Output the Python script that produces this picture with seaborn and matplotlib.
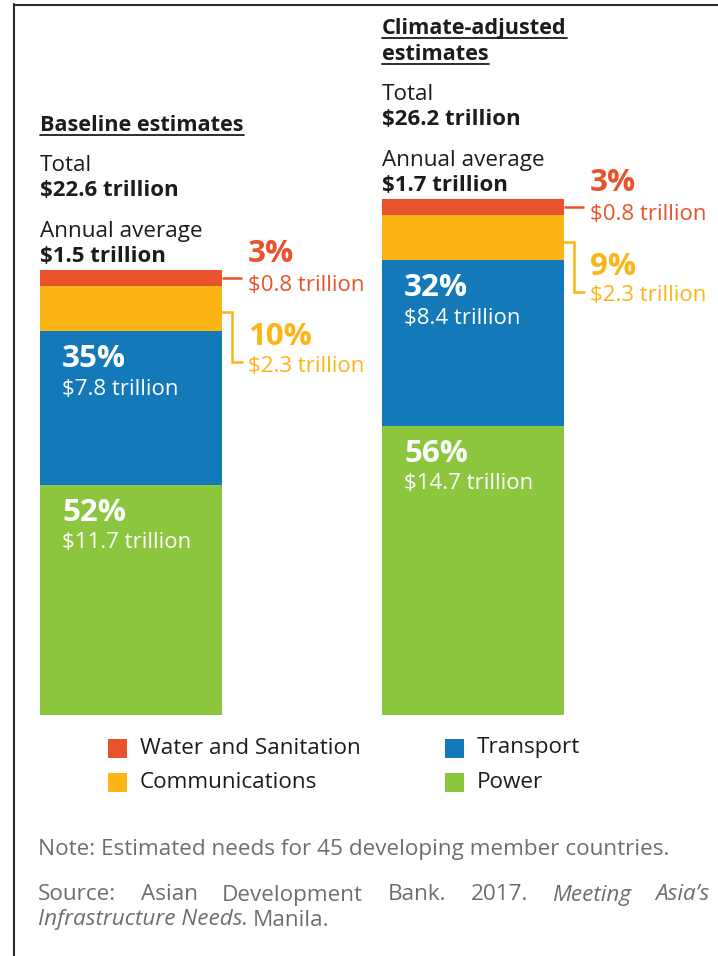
import matplotlib
matplotlib.use("Agg")
import matplotlib.pyplot as plt
import seaborn as sns
import numpy as np
from matplotlib.lines import Line2D
from matplotlib.patches import Rectangle

# data (trillion US$, 2016-2030)
scenarios = ["Baseline", "Climate-adjusted"]
power = [11.7, 14.7]
transport = [7.8, 8.4]
communications = [2.3, 2.3]
water = [0.8, 0.8]
power_pct = ["52%", "56%"]
transport_pct = ["35%", "32%"]
comm_pct = ["10%", "9%"]
water_pct = ["3%", "3%"]
titles = [["Baseline estimates"], ["Climate-adjusted", "estimates"]]
totals = ["$22.6 trillion", "$26.2 trillion"]
annual = ["$1.5 trillion", "$1.7 trillion"]
legend_labels = ["Water and Sanitation", "Communications", "Transport", "Power"]

RED = "#E9532B"
YEL = "#FDB515"
BLUE = "#1479B8"
GREEN = "#8CC63F"
INK = "#1c1c1c"
GREY = "#6e6e6e"

sns.set_theme(style="white")
plt.rcParams["font.family"] = ["Open Sans", "DejaVu Sans"]

W, H = 718, 956
fig = plt.figure(figsize=(W / 100, H / 100), dpi=100)
ax = fig.add_axes([0, 0, 1, 1])

# stacked bars drawn as overlapping cumulative bars, top layer first
layers = np.array([power, transport, communications, water])
stack = np.cumsum(layers, axis=0)
bar_w = 0.532
for level, col in zip([3, 2, 1, 0], [RED, YEL, BLUE, GREEN]):
    sns.barplot(x=scenarios, y=stack[level], color=col, saturation=1,
                width=bar_w, errorbar=None, linewidth=0, ax=ax)

# map data so that the layout lands where the original has it
ppx = 342.0            # pixels per category step
k = 445 / 22.6         # pixels per trillion
ax.set_xlim(-131 / ppx, (W - 131) / ppx)
ax.set_ylim(-(H - 715) / k, 715 / k)
ax.axis("off")
ux, uy = 1 / ppx, 1 / k

FS_HEAD = 15.6
FS_VAL = 16
FS_TXT = 16.2
FS_PCT = 22.5
FS_SMALL = 16


def note(s, xy, off, **kw):
    return ax.annotate(s, xy=xy, xytext=off, textcoords="offset pixels", **kw)


def underline(t, gap=4):
    fig.canvas.draw()
    bb = t.get_window_extent()
    y0 = ax.transData.transform(t.xy)[1] + t.xyann[1] - gap
    fig.add_artist(Line2D([bb.x0 / W, bb.x1 / W], [y0 / H, y0 / H],
                          transform=fig.transFigure, color=INK, lw=1.3))


for i in range(2):
    left = i - bar_w / 2
    right = i + bar_w / 2
    top = stack[3][i]
    # header block above each bar
    hdr = []
    for j, line in enumerate(titles[i]):
        off = 139 + 26 * (len(titles[i]) - 1 - j)
        hdr.append(note(line, (left, top), (0, off), fontsize=FS_HEAD, fontweight="bold",
                        color=INK, va="baseline"))
    note("Total", (left, top), (0, 99), fontsize=FS_TXT, color=INK, va="baseline")
    note(totals[i], (left, top), (0, 74), fontsize=FS_VAL, fontweight="bold", color=INK, va="baseline")
    note("Annual average", (left, top), (0, 33), fontsize=FS_TXT, color=INK, va="baseline")
    note(annual[i], (left, top), (0, 8), fontsize=FS_VAL, fontweight="bold", color=INK, va="baseline")
    for t in hdr:
        underline(t)

    # labels inside transport and power
    for seg_top, pct, val in [(stack[1][i], transport_pct[i], transport[i]),
                              (stack[0][i], power_pct[i], power[i])]:
        note(pct, (left, seg_top), (22, -28), fontsize=FS_PCT, fontweight="bold",
             color="white", va="center")
        note(f"${val:g} trillion", (left, seg_top), (22, -58), fontsize=FS_SMALL,
             color="white", va="center")

    # water: straight connector
    wm = stack[2][i] + water[i] / 2
    ax.plot([right, right + 20 * ux], [wm, wm], color=RED, lw=1.8, solid_capstyle="butt")
    note(water_pct[i], (right, wm), (26, 24), fontsize=FS_PCT, fontweight="bold", color=RED, va="center")
    note(f"${water[i]:g} trillion", (right, wm), (26, -8), fontsize=FS_SMALL, color=RED, va="center")

    # communications: bracket connector
    cm = stack[1][i] + communications[i] / 2
    ya, yb = cm - 4 * uy, cm - 54 * uy
    ax.plot([right, right + 10 * ux, right + 10 * ux, right + 20 * ux], [ya, ya, yb, yb],
            color=YEL, lw=1.8, solid_joinstyle="miter")
    note(comm_pct[i], (right, cm), (26, -29), fontsize=FS_PCT, fontweight="bold", color=YEL, va="center")
    note(f"${communications[i]:g} trillion", (right, cm), (26, -58), fontsize=FS_SMALL,
         color=YEL, va="center")


def ftext(x, y, s, **kw):
    return fig.text(x / W, 1 - y / H, s, **kw)


# legend
legend_cols = [RED, YEL, BLUE, GREEN]
legend_pos = [(108, 748), (108, 782), (445, 748), (445, 782)]
for lab, col, (lx, ly) in zip(legend_labels, legend_cols, legend_pos):
    fig.add_artist(Rectangle((lx / W, 1 - (ly + 9.5) / H), 19 / W, 19 / H,
                             transform=fig.transFigure, color=col, lw=0))
    ftext(lx + 32, ly, lab, fontsize=FS_TXT, color=INK, va="center")

# notes
ftext(38, 850, "Note: Estimated needs for 45 developing member countries.",
      fontsize=FS_TXT, color=GREY, va="center")

src = [("Source:", "normal"), ("Asian", "normal"), ("Development", "normal"), ("Bank.", "normal"),
       ("2017.", "normal"), ("Meeting", "italic"), ("Asia\u2019s", "italic")]
words = [ftext(0, 895, w, fontsize=FS_TXT, color=GREY, va="center", style=st) for w, st in src]
fig.canvas.draw()
r = fig.canvas.get_renderer()
widths = [t.get_window_extent(r).width for t in words]
gap = (710 - 38 - sum(widths)) / (len(words) - 1)
x = 38
for t, wd in zip(words, widths):
    t.set_x(x / W)
    x += wd + gap

t1 = ftext(38, 920, "Infrastructure Needs.", fontsize=FS_TXT, color=GREY, va="center", style="italic")
fig.canvas.draw()
w1 = t1.get_window_extent(r).width
ftext(38 + w1 + 5, 920, "Manila.", fontsize=FS_TXT, color=GREY, va="center")

# frame (cut at right and bottom as in the original)
fig.add_artist(Line2D([14 / W, 14 / W], [1 - 4 / H, 0], transform=fig.transFigure, color="#2a2a2a", lw=1.5))
fig.add_artist(Line2D([14 / W, 1], [1 - 4.5 / H, 1 - 4.5 / H], transform=fig.transFigure, color="#2a2a2a", lw=1.5))

fig.savefig("out.png", dpi=100)
